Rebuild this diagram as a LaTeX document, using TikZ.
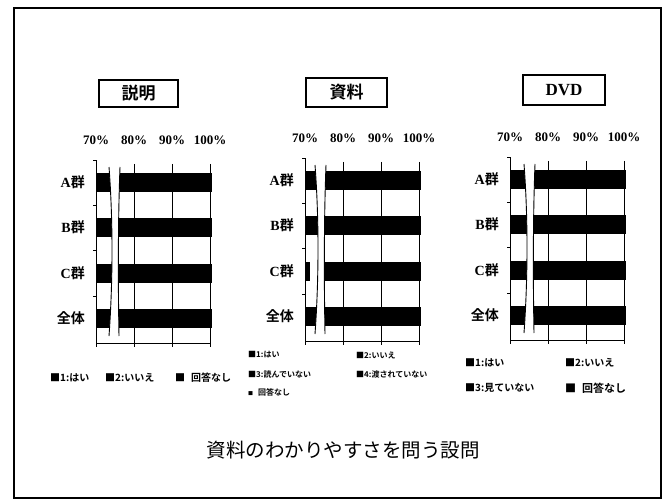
\documentclass[tikz,border=0pt]{standalone}
\usepackage{fontspec}
\setmainfont{Liberation Serif}
\newfontfamily\jp{Noto Sans CJK JP}[BoldFont={Noto Sans CJK JP Bold}]
\tikzset{
  frame/.style={line width=1.8pt},
  titlebox/.style={draw, line width=1.1pt, inner sep=0pt, font=\fontsize{17}{17}\selectfont\bfseries},
  pct/.style={inner sep=0pt, font=\fontsize{13}{13}\selectfont\bfseries},
  cat/.style={inner sep=0pt, anchor=east, font=\fontsize{14}{14}\selectfont\bfseries},
  leg/.style={inner sep=0pt, anchor=west, font=\jp\bfseries\fontsize{10}{10}\selectfont},
  legs/.style={inner sep=0pt, anchor=west, font=\jp\bfseries\fontsize{8}{8}\selectfont},
  axisline/.style={line width=0.9pt},
  gridline/.style={line width=0.8pt},
  breakline/.style={line width=0.9pt},
}
% #1 x of 70%, #2 y of axis top, #3 offset of break, #4 name prefix, #5 extra code after bars
\newcommand\drawchart[5]{%
  \begin{scope}[shift={(#1,#2)}]
    \foreach \yy in {22,67.5,113,158} \fill (0,\yy-9.5) rectangle (116,\yy+9.5);
    #5
    \foreach \xx in {38,76,114} \draw[gridline] (\xx,4) -- (\xx,187);
    \draw[axisline] (-3,0) -- (0,0) -- (0,183) -- (115,183);
    \foreach \yy in {45,90,136} \draw[axisline] (-3,\yy) -- (0,\yy);
    \draw[axisline] (0,183) -- (0,187);
    \fill[white] (#3,7) .. controls (#3+4,60) and (#3+4,120) .. (#3,176)
       -- (#3+10,176) .. controls (#3+9,120) and (#3+9,60) .. (#3+11,7) -- cycle;
    \draw[breakline] (#3,7) .. controls (#3+4,60) and (#3+4,120) .. (#3,176);
    \draw[breakline] (#3+11,7) .. controls (#3+9,60) and (#3+9,120) .. (#3+10,176);
    \node[pct] (#4p70) at (0,-20) {70\%};
    \node[pct] (#4p80) at (38,-20) {80\%};
    \node[pct] (#4p90) at (76,-20) {90\%};
    \node[pct] (#4p100) at (114,-20) {100\%};
    \node[cat] (#4a) at (-11,22) {A{\jp\bfseries 群}};
    \node[cat] (#4b) at (-11,67.5) {B{\jp\bfseries 群}};
    \node[cat] (#4c) at (-11,113) {C{\jp\bfseries 群}};
    \node[cat] (#4d) at (-11,158) {{\jp\bfseries 全体}};
  \end{scope}%
}
\begin{document}
\begin{tikzpicture}[x=1pt,y=-1pt]
  \useasboundingbox (0,0) rectangle (664,500);
  \draw[frame] (14,8) rectangle (661,498);
  % titles
  \node[titlebox, minimum width=79pt, minimum height=27pt] (t1) at (138.5,93.5) {\jp\bfseries 説明};
  \node[titlebox, minimum width=81pt, minimum height=29pt] (t2) at (346.5,92.5) {\jp\bfseries 資料};
  \node[titlebox, minimum width=82pt, minimum height=30pt] (t3) at (564,90) {DVD};
  % charts
  \drawchart{96}{160}{13}{c1}{}
  \drawchart{305}{158}{10}{c2}{\fill[white] (5,103) rectangle (16,123);}
  \drawchart{510}{157}{14}{c3}{}
  % legends chart 1
  \node[leg] (l11) at (50,378) {■1:はい};
  \node[leg] (l12) at (105,378) {■2:いいえ};
  \node[leg] (l13) at (175,378) {■\hspace{6pt}回答なし};
  % legends chart 2
  \node[legs] (l21) at (248,355) {■1:はい};
  \node[legs] (l22) at (356,355) {■2:いいえ};
  \node[legs] (l23) at (248,374) {■3:読んでいない};
  \node[legs] (l24) at (356,374) {■4:渡されていない};
  \node[legs] (l25) at (248,392) {{\fontsize{5}{5}\selectfont■}\hspace{5pt}回答なし};
  % legends chart 3
  \node[leg] (l31) at (465,363) {■1:はい};
  \node[leg] (l32) at (565,363) {■2:いいえ};
  \node[leg] (l33) at (465,388) {■3:見ていない};
  \node[leg, font=\jp\bfseries\fontsize{11}{11}\selectfont] (l34) at (565,388) {■\hspace{6pt}回答なし};
  % caption
  \node[inner sep=0pt, font=\jp\fontsize{19.5}{20}\selectfont] (cap) at (343,450) {資料のわかりやすさを問う設問};
\end{tikzpicture}
\end{document}
